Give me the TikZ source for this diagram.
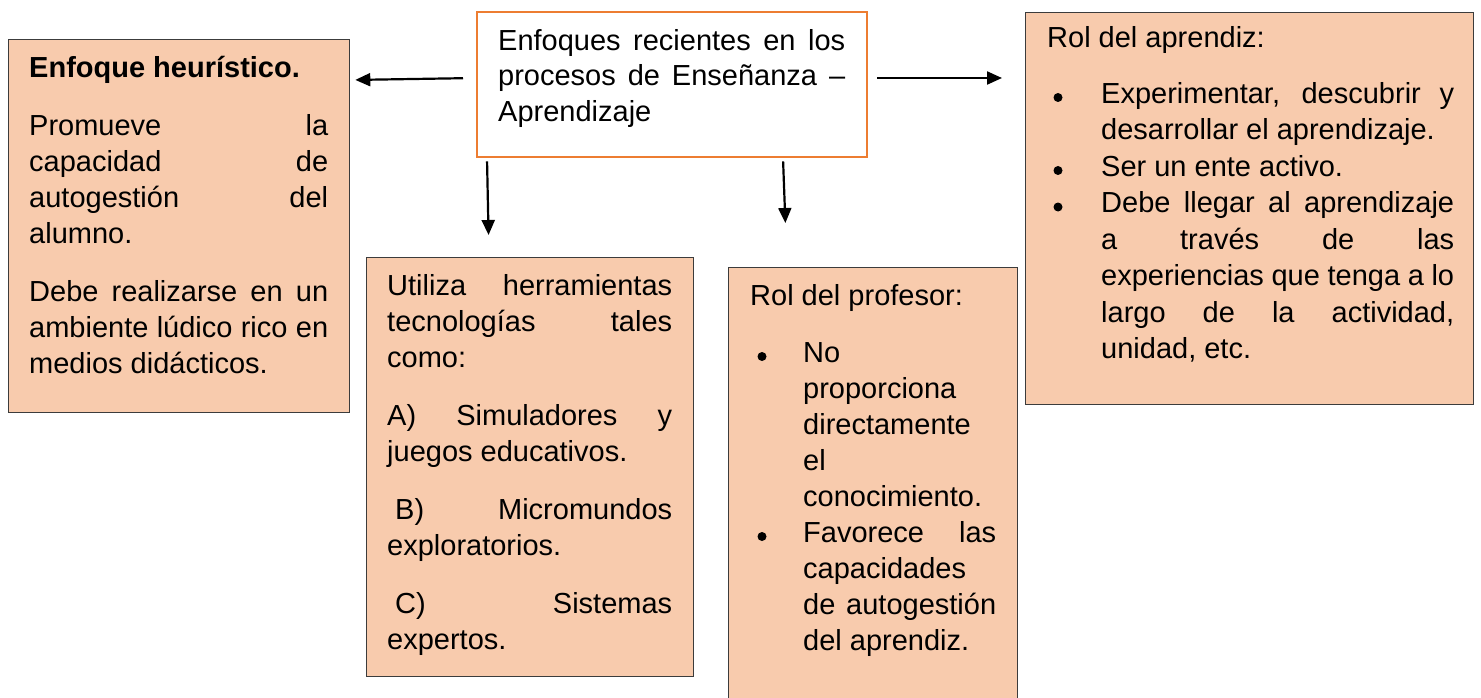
\documentclass[tikz,border=0pt]{standalone}
\usepackage{fontspec}
\setmainfont{Liberation Sans}
\usetikzlibrary{arrows.meta}
\definecolor{peach}{RGB}{248,203,173}
\definecolor{orangeb}{RGB}{237,125,49}
\definecolor{bord}{RGB}{60,60,60}
\hyphenpenalty=10000
\exhyphenpenalty=10000
\tolerance=10000
\hbadness=10000
\begin{document}
\begin{tikzpicture}[x=1pt,y=-1pt,
  box/.style={draw=bord, line width=1.3pt, fill=peach, anchor=north west, inner sep=0pt},
  mainbox/.style={draw=orangeb, line width=2.4pt, fill=white, anchor=north west, inner sep=0pt},
  txt/.style={anchor=north west, inner sep=0pt, align=justify, font=\fontsize{29}{36}\selectfont},
  arr/.style={-{Triangle[length=15pt,width=13pt]}, line width=2.2pt},
  bulletdot/.style={fill=black}]
\useasboundingbox (0,0) rectangle (1481,698);
\fill[white] (0,0) rectangle (1481,698);

% boxes
\node[box, minimum width=341pt, minimum height=373pt] (L) at (8,39) {};
\node[mainbox, minimum width=390pt, minimum height=145pt] (C) at (476,11) {};
\node[box, minimum width=327pt, minimum height=419pt] (U) at (366,257) {};
\node[box, minimum width=289pt, minimum height=445pt] (P) at (728,267) {};
\node[box, minimum width=448pt, minimum height=392pt] (A) at (1025,12) {};

% texts
\node[txt, text width=299pt] (Lt) at (29,51.8) {\strut\textbf{Enfoque heurístico.}\par\vspace{22pt}
Promueve la\linebreak capacidad de\linebreak autogestión del\linebreak alumno.\par\vspace{22pt}
Debe realizarse en un\linebreak ambiente lúdico rico en\linebreak medios didácticos.\par};

\node[txt, text width=347pt, font=\fontsize{29}{35.5}\selectfont] (Ct) at (498,25.15) {\strut Enfoques recientes en los\linebreak procesos de Enseñanza –\linebreak Aprendizaje\par};

\node[txt, text width=285pt] (Ut) at (387,269.8) {\strut Utiliza herramientas\linebreak tecnologías tales\linebreak como:\par\vspace{22pt}
A) Simuladores y\linebreak juegos educativos.\par\vspace{22pt}
\hspace*{8pt}B) Micromundos\linebreak exploratorios.\par\vspace{22pt}
\hspace*{8pt}C) Sistemas\linebreak expertos.\par};

\node[txt, text width=246pt] (Pt) at (750,279.8) {\strut Rol del profesor:\par\vspace{21pt}
\hangindent=53pt \hangafter=0 No\linebreak proporciona\linebreak directamente\linebreak el\linebreak conocimiento.\par
\hangindent=53pt \hangafter=0 Favorece las\linebreak capacidades\linebreak de autogestión\linebreak del aprendiz.\par};

\node[txt, text width=407pt, font=\fontsize{29}{36.5}\selectfont] (At) at (1047,21.45) {\strut Rol del aprendiz:\par\vspace{19.5pt}
\hangindent=54pt \hangafter=0 Experimentar, descubrir y\linebreak desarrollar el aprendizaje.\par
\hangindent=54pt \hangafter=0 Ser un ente activo.\par
\hangindent=54pt \hangafter=0 Debe llegar al aprendizaje\linebreak a través de las\linebreak experiencias que tenga a lo\linebreak largo de la actividad,\linebreak unidad, etc.\par};

% bullets
\fill[bulletdot] (762,356.5) circle[radius=4.5pt];
\fill[bulletdot] (762,536.5) circle[radius=4.5pt];
\fill[bulletdot] (1058,97.5) circle[radius=4.5pt];
\fill[bulletdot] (1058,170.5) circle[radius=4.5pt];
\fill[bulletdot] (1058,207) circle[radius=4.5pt];

% arrows
\draw[arr, shorten <=13pt, shorten >=5pt] (C.west |- 0,78) -- (L.east |- 0,80);
\draw[arr, shorten <=9pt, shorten >=23pt] (C.east |- 0,78) -- (A.west |- 0,78);
\draw[arr, shorten <=3pt, shorten >=22pt] (C.south -| 487,0) -- (U.north -| 489,0);
\draw[arr, shorten <=3pt, shorten >=44pt] (C.south -| 783,0) -- (P.north -| 787,0);
\end{tikzpicture}
\end{document}
